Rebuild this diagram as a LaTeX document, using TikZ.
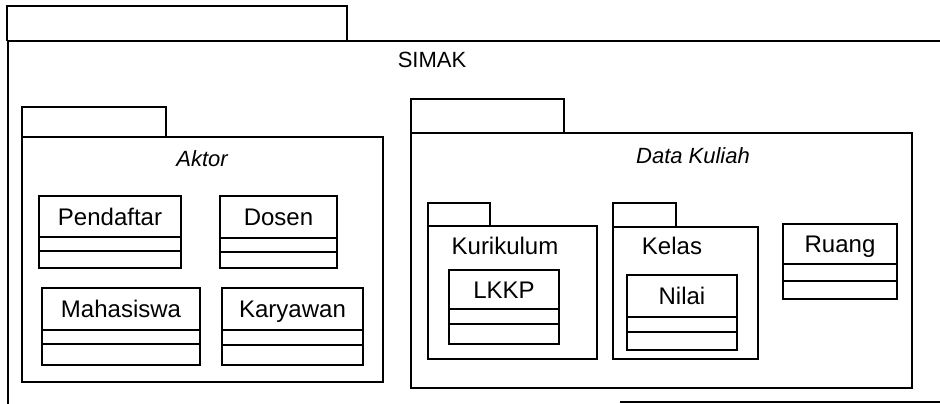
\documentclass[tikz,border=0pt]{standalone}
\usepackage{fontspec}
\setmainfont{Liberation Sans}
\begin{document}
\begin{tikzpicture}[x=1pt,y=-1pt,
  ln/.style={draw=black,line width=1.8pt},
  thick top/.style={draw=black,line width=2.8pt},
  lbl/.style={font=\fontsize{24}{24}\selectfont,inner sep=0pt,text height=17pt,text depth=0pt,anchor=center},
  ilbl/.style={font=\fontsize{22}{22}\selectfont\itshape,inner sep=0pt,text height=16pt,text depth=0pt,anchor=center}]
\useasboundingbox (0,0) rectangle (940,404);
\fill[white] (0,0) rectangle (940,404);
% class macro: #1 name, #2 x1, #3 y1, #4 x2, #5 y2, #6 line1, #7 line2, #8 text
\newcommand\umlclass[8]{%
  \draw[ln] (#2,#3) rectangle (#4,#5);
  \draw[ln] (#2,#6) -- (#4,#6);
  \draw[ln] (#2,#7) -- (#4,#7);
  \node[lbl] (#1) at ({(#2+#4)/2},{(#3+#6)/2}) {#8};
}
% SIMAK outer package
\draw[ln] (7,41) -- (7,6) -- (347,6) -- (347,41);
\draw[thick top] (7,41) -- (940,41);
\draw[ln] (8,41) -- (8,404);
\draw[ln] (620,402) -- (940,402);
\node[ilbl,font=\fontsize{22}{22}\selectfont] (simak) at (432,59) {SIMAK};
% Aktor package
\draw[ln] (22,137) -- (22,107) -- (166,107) -- (166,137);
\draw[ln] (22,137) rectangle (383,382);
\draw[thick top] (22,137) -- (383,137);
\node[ilbl] (aktor) at (202,158) {Aktor};
\umlclass{pendaftar}{39}{196}{181}{268}{237}{251}{Pendaftar}
\umlclass{dosen}{220}{196}{337}{268}{238}{252}{Dosen}
\umlclass{mahasiswa}{42}{288}{200}{365}{330}{344}{Mahasiswa}
\umlclass{karyawan}{222}{288}{363}{365}{330}{345}{Karyawan}
% Data Kuliah package
\draw[ln] (411,133) -- (411,99) -- (564,99) -- (564,133);
\draw[ln] (411,133) rectangle (912,388);
\draw[thick top] (411,133) -- (912,133);
\node[ilbl] (datakuliah) at (693,155) {Data Kuliah};
% Kurikulum package
\draw[ln] (428,226) -- (428,203) -- (490,203) -- (490,226);
\draw[ln] (428,226) rectangle (597,359);
\draw[thick top] (428,226) -- (597,226);
\node[lbl] (kurikulum) at (505,246) {Kurikulum};
\umlclass{lkkp}{449}{270}{559}{344}{309}{324}{LKKP}
% Kelas package
\draw[ln] (613,227) -- (613,203) -- (676,203) -- (676,227);
\draw[ln] (613,227) rectangle (758,359);
\node[lbl] (kelas) at (672,246) {Kelas};
\umlclass{nilai}{627}{275}{737}{350}{317}{332}{Nilai}
% Ruang class
\umlclass{ruang}{783}{224}{897}{299}{264}{281}{Ruang}
\end{tikzpicture}
\end{document}
